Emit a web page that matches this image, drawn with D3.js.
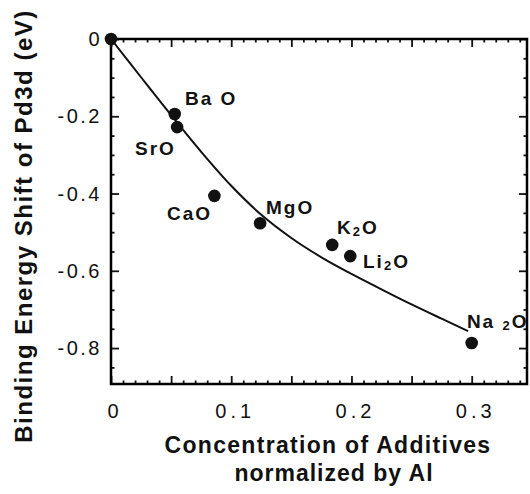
<!DOCTYPE html>
<html>
<head>
<meta charset="utf-8">
<script src="https://cdn.jsdelivr.net/npm/d3@7"></script>
<style>
  html, body { margin: 0; padding: 0; background: #fff; }
  svg { display: block; }
  text { font-family: "Liberation Sans", Arial, Helvetica, sans-serif; fill: #111; }
</style>
</head>
<body>
<svg id="chart" width="530" height="494"></svg>
<script>
// ---- data ----
const pointNames = ["", "BaO", "SrO", "CaO", "MgO", "K2O", "Li2O", "Na2O"];
const pointX = [0, 0.053, 0.055, 0.086, 0.124, 0.184, 0.199, 0.300];
const pointY = [0, -0.194, -0.228, -0.406, -0.477, -0.533, -0.562, -0.787];

const curveX = [0, 0.025, 0.05, 0.075, 0.1, 0.125, 0.15, 0.175, 0.2, 0.225, 0.25, 0.275, 0.297];
const curveY = [0, -0.099, -0.197, -0.292, -0.380, -0.455, -0.515, -0.565, -0.608, -0.648, -0.687, -0.724, -0.756];

const xTickValues = [0, 0.1, 0.2, 0.3];
const xTickLabels = ["0", "0.1", "0.2", "0.3"];
const yTickValues = [0, -0.2, -0.4, -0.6, -0.8];
const yTickLabels = ["0", "-0.2", "-0.4", "-0.6", "-0.8"];

// label text pieces ([text, isSubscript]) and anchor positions in data units
const labelParts = {
  "BaO": [["Ba O", false]],
  "SrO": [["SrO", false]],
  "CaO": [["CaO", false]],
  "MgO": [["MgO", false]],
  "K2O": [["K", false], ["2", true], ["O", false]],
  "Li2O": [["Li", false], ["2", true], ["O", false]],
  "Na2O": [["Na ", false], ["2", true], ["O", false]]
};
const labelX = { "BaO": 0.0616, "SrO": 0.020, "CaO": 0.0466, "MgO": 0.1289, "K2O": 0.188, "Li2O": 0.2096, "Na2O": 0.296 };
const labelY = { "BaO": -0.171, "SrO": -0.300, "CaO": -0.4686, "MgO": -0.453, "K2O": -0.505, "Li2O": -0.593, "Na2O": -0.748 };

// ---- scales ----
const x = d3.scaleLinear().domain([0, 0.346]).range([111, 527]);
const y = d3.scaleLinear().domain([0, -0.893]).range([39, 384]);

const svg = d3.select("#chart");
const xMin = x.range()[0], xMax = x.range()[1], yTop = y.range()[0], yBot = y.range()[1];

// ---- axes with inward ticks ----
const xMinor = d3.range(0, 0.3451, 0.01).map(v => +v.toFixed(2)).filter(v => Math.abs(Math.round(v * 100) % 5) !== 0);
const xMajor = d3.range(0, 0.3451, 0.05).map(v => +v.toFixed(2));
const yMinor = d3.range(0, -0.8931, -0.05).map(v => +v.toFixed(2)).filter(v => Math.abs(Math.round(v * 100) % 20) !== 0);
const yMajor = yTickValues;

function styleAxis(g) {
  g.selectAll("path.domain").remove();
  g.selectAll("line").attr("stroke", "#111").attr("stroke-width", 1.8);
  g.selectAll("text").remove();
}

svg.append("g").attr("transform", `translate(0,${yBot})`)
  .call(d3.axisBottom(x).tickValues(xMinor).tickSize(-3.5)).call(styleAxis);
svg.append("g").attr("transform", `translate(0,${yBot})`)
  .call(d3.axisBottom(x).tickValues(xMajor).tickSize(-8)).call(styleAxis);
svg.append("g").attr("transform", `translate(0,${yTop})`)
  .call(d3.axisTop(x).tickValues(xMinor).tickSize(-3.5)).call(styleAxis);
svg.append("g").attr("transform", `translate(0,${yTop})`)
  .call(d3.axisTop(x).tickValues(xMajor).tickSize(-8)).call(styleAxis);
svg.append("g").attr("transform", `translate(${xMin},0)`)
  .call(d3.axisLeft(y).tickValues(yMinor).tickSize(-3.5)).call(styleAxis);
svg.append("g").attr("transform", `translate(${xMin},0)`)
  .call(d3.axisLeft(y).tickValues(yMajor).tickSize(-8)).call(styleAxis);
svg.append("g").attr("transform", `translate(${xMax},0)`)
  .call(d3.axisRight(y).tickValues(yMinor).tickSize(-3.5)).call(styleAxis);
svg.append("g").attr("transform", `translate(${xMax},0)`)
  .call(d3.axisRight(y).tickValues(yMajor).tickSize(-8)).call(styleAxis);

// frame
svg.append("rect")
  .attr("x", xMin).attr("y", yTop)
  .attr("width", xMax - xMin).attr("height", yBot - yTop)
  .attr("fill", "none").attr("stroke", "#000").attr("stroke-width", 2.5);

// tick labels
svg.append("g").selectAll("text").data(xTickValues).join("text")
  .attr("x", (d, i) => x(d) + (i === 0 ? 2 : 4))
  .attr("y", 418)
  .attr("text-anchor", "middle")
  .attr("font-size", 20)
  .attr("letter-spacing", (d, i) => i === 0 ? 0 : 4)
  .text((d, i) => xTickLabels[i]);

svg.append("g").selectAll("text").data(yTickValues).join("text")
  .attr("x", 102)
  .attr("y", d => y(d) + 7)
  .attr("text-anchor", "end")
  .attr("font-size", 20)
  .attr("letter-spacing", 2.5)
  .text((d, i) => yTickLabels[i]);

// axis titles
svg.append("text")
  .attr("x", 328).attr("y", 453)
  .attr("text-anchor", "middle")
  .attr("font-size", 23).attr("font-weight", "bold")
  .attr("letter-spacing", 1.3)
  .text("Concentration of Additives");
svg.append("text")
  .attr("x", 334).attr("y", 481)
  .attr("text-anchor", "middle")
  .attr("font-size", 23).attr("font-weight", "bold")
  .attr("letter-spacing", 1.0)
  .text("normalized by Al");

svg.append("text")
  .attr("transform", "translate(32,226) rotate(-90)")
  .attr("text-anchor", "middle")
  .attr("font-size", 24).attr("font-weight", "bold")
  .attr("letter-spacing", 1.5)
  .text("Binding Energy Shift of Pd3d (eV)");

// fitted curve
const curvePts = curveX.map((v, i) => [v, curveY[i]]);
svg.append("path")
  .datum(curvePts)
  .attr("fill", "none").attr("stroke", "#111").attr("stroke-width", 2)
  .attr("d", d3.line().x(d => x(d[0])).y(d => y(d[1])).curve(d3.curveCatmullRom.alpha(0.5)));

// points
svg.append("g").selectAll("circle").data(pointX).join("circle")
  .attr("cx", d => x(d))
  .attr("cy", (d, i) => y(pointY[i]))
  .attr("r", 6.3)
  .attr("fill", "#111");

// point labels
const labG = svg.append("g");
pointNames.filter(n => n).forEach(name => {
  const t = labG.append("text")
    .attr("x", x(labelX[name])).attr("y", y(labelY[name]))
    .attr("font-size", 19).attr("font-weight", "bold")
    .attr("letter-spacing", 2);
  labelParts[name].forEach(([s, sub], k) => {
    const sp = t.append("tspan").text(s);
    if (sub) sp.attr("font-size", 13).attr("dy", 2);
    else if (k > 0) sp.attr("dy", -2);
  });
});
</script>
</body>
</html>
